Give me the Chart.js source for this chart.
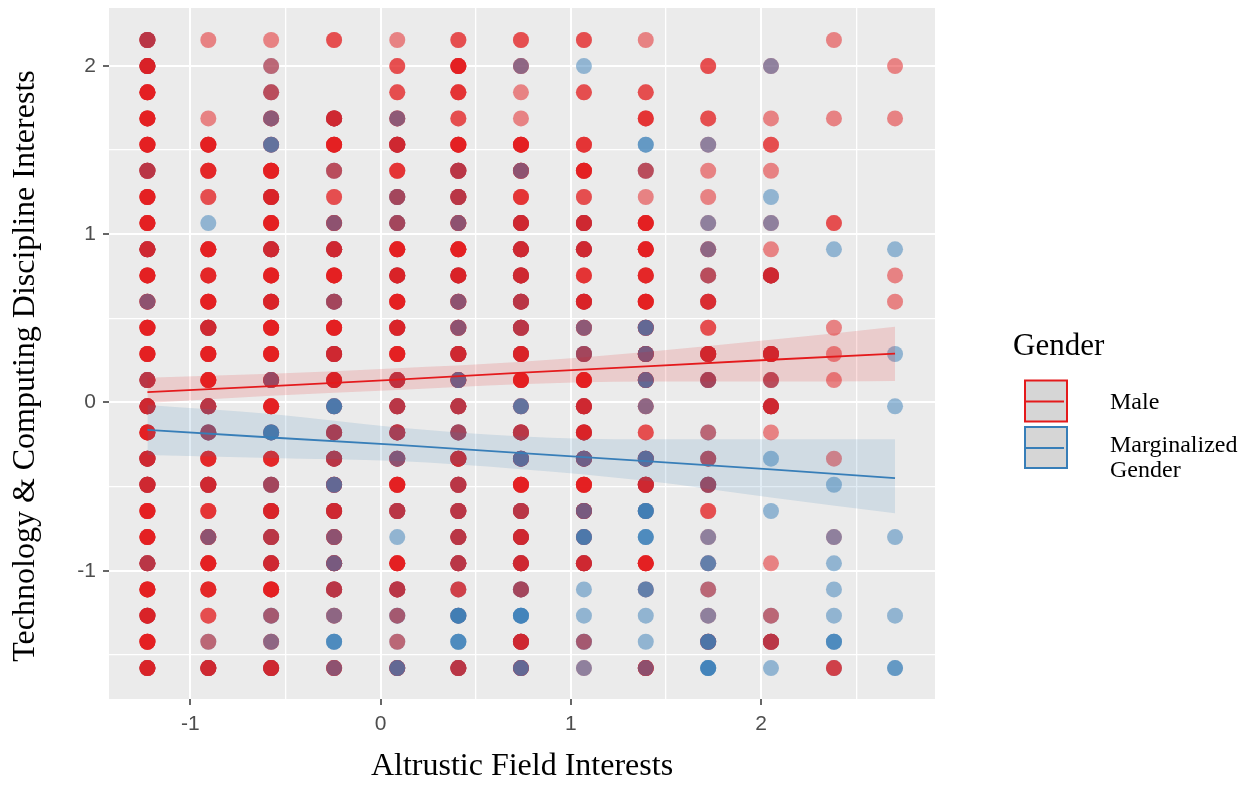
<!DOCTYPE html>
<html>
<head>
<meta charset="utf-8">
<script src="https://cdn.jsdelivr.net/npm/chart.js@4.4.1/dist/chart.umd.min.js"></script>
<style>
html,body{margin:0;padding:0;background:#ffffff;}
#wrap{width:1252px;height:789px;position:relative;}
</style>
</head>
<body>
<div id="wrap"><canvas id="c" width="1252" height="789"></canvas></div>
<script>
// ---- Data ----
// Discrete x positions (Altrustic Field Interests)
const xLevels = [-1.225, -0.905, -0.575, -0.244, 0.088, 0.409, 0.738, 1.069, 1.394, 1.722, 2.052, 2.383, 2.704];
// Discrete y positions (Technology & Computing Discipline Interests), top to bottom
const yLevels = [2.154, 1.999, 1.843, 1.688, 1.532, 1.377, 1.221, 1.066, 0.910, 0.755, 0.599, 0.444, 0.288, 0.133,
                 -0.023, -0.178, -0.334, -0.489, -0.645, -0.800, -0.956, -1.111, -1.267, -1.422, -1.578];
// Respondents at each grid cell, in drawing order: M = Male, G = Marginalized Gender
const column1  = ["MMMMGM","MMMGMMM","MMMMM","MMMMM","MMMMM","MMMMGM","MMMMM","MMMMM","MMMMGMM","MMMMM","MMMMG","MMMMM","MMMMM","MMMMGM","MMMMGMM","MMMMM","MMMMGMM","MMMMGMM","MMMMM","MMMMM","MMMMGM","MMMMM","MMGMMM","MMMMM","MMGMMM"];
const column2  = ["M","","","M","MMMMM","MMMM","MM","G","MMMMM","MMMM","MMMMM","MMMMGMM","MMMMM","MMMMM","MMMMGM","MMGGM","MMMM","MMMMGMM","MMM","MMMMG","MMMMM","MMMM","MM","GM","MMMMGMM"];
const column3  = ["M","GM","MGM","MMMG","MMGG","MMMMM","MMGMMM","MMMMM","MMMMGMM","MMMMM","MMGMMM","MMMMM","MMMMM","MMMMMG","MMMMM","MMGGG","MMMM","MMGGM","MMGMMM","MMMMGM","MMMMGMM","MMMMM","GGM","MMG","MMMMGMM"];
const column4  = ["MM","","","MMMMGMM","MMMMM","MGM","MM","MMMMG","MMMMGMM","MMMMM","MMGGM","MMMMM","MMMMGMM","MMGMMM","MMGGG","MMMMGM","MMMMGM","MMMMGG","MMMMGMM","MMMMG","MMMMGMG","MMMMGM","MMG","GGG","MMMMG"];
const column5  = ["M","MM","MM","MMMG","MMMMGMM","MMM","MMGGM","MMGGM","MMMMM","MMGMMM","MMMMM","MMGMMM","MMMMM","MMMMGM","MMMMGM","MMMMGM","MMMMG","MMMMM","MMMMGM","G","MMMMM","MMMMGM","GGM","GM","MMMMGG"];
const column6  = ["MM","MMMMM","MMM","MM","MMMMM","MMMMGM","MMMMGM","MMMMG","MMMMM","MMGMMM","MMMMG","MMMMG","MMMMGMM","MMMMGG","MMMMGM","MMGGM","MMMMGMM","MMMMGM","MMMMGM","MMMMGM","MMMMGM","GMM","MGGGG","GGG","MMMMGM"];
const column7  = ["MM","MMG","M","M","MMMMM","MMMMG","MMM","MMMMGMM","MMMMGMM","MMMMGMM","MMMMGM","MMMMGM","MMGMMM","MMMMM","MMGG","MMMMGM","MMMMGG","MMMMM","MMMMGM","MMMMGMM","MMMMGMM","MMGGM","GGGG","MMMMGMM","MMMMGG"];
const column8  = ["MM","G","MM","","MMM","MMMMM","MM","MMMMGMM","MMMMGMM","MMM","MMGMMM","MMMG","MMGGM","MMMMM","MMMMGMM","MMGMMM","MMMMGMG","MMMMM","MMMMGMG","MMGGG","MMMMGMM","G","G","GGM","MG"];
const column9  = ["M","","MM","MMM","GG","MGM","M","MMMMM","MMMMM","MMMM","MMMMM","MMMMGG","MMMMGMG","MMMMGG","MMG","MM","MMMMGG","MMMMGMM","MGGGG","GGG","MMMMM","MGG","G","G","MMMMMG"];
const column10 = ["","MM","","MM","MG","M","M","MG","MMG","MGM","GMMM","MM","MMMMGMM","MMGGM","","GM","MGM","MMGGM","MM","MG","MGG","GM","MG","MMMGGG","GGGG"];
const column11 = ["","MG","","M","MM","M","G","MG","M","MMMMGMM","","","MMMMGMM","MGM","MMMMGMM","M","G","","G","","M","","GM","MMMMGM","G"];
const column12 = ["M","","","M","","","","MM","G","","","M","M","M","","","M","G","","MG","G","G","G","GGG","GMM"];
const column13 = ["","M","","M","","","","","G","M","M","","G","","G","","","","","G","","","G","","GG"];

// Fitted lines and 95% bands read at these x positions
const fitX        = [-1.225, -0.575, 0.088, 0.7225, 1.394, 2.052, 2.704];
const maleFit     = [0.061, 0.097, 0.136, 0.176, 0.215, 0.254, 0.290];
const maleUpper   = [0.147, 0.170, 0.203, 0.240, 0.300, 0.372, 0.450];
const maleLower   = [-0.003, 0.040, 0.074, 0.108, 0.124, 0.124, 0.128];
const margFit     = [-0.163, -0.208, -0.252, -0.300, -0.349, -0.398, -0.450];
const margUpper   = [-0.015, -0.068, -0.148, -0.200, -0.219, -0.219, -0.219];
const margLower   = [-0.312, -0.330, -0.348, -0.395, -0.465, -0.565, -0.658];

// Axis ticks / grid
const xGridValues = [-1, -0.5, 0, 0.5, 1, 1.5, 2, 2.5];
const yGridValues = [-1.5, -1, -0.5, 0, 0.5, 1, 1.5, 2];
const xTickLabels = {"-1": "-1", "0": "0", "1": "1", "2": "2"};
const yTickLabels = {"-1": "-1", "0": "0", "1": "1", "2": "2"};
const xRange = [-1.427, 2.914];
const yRange = [-1.762, 2.344];

const xTitle = 'Altrustic Field Interests';
const yTitle = 'Technology & Computing Discipline Interests';
const legendTitle = 'Gender';
const genderNames = ["Male", "Marginalized\nGender"];

// ---- Build chart ----
const RED = 'rgb(228,26,28)';
const BLUE = 'rgb(55,126,184)';
const RED_PT = 'rgba(228,26,28,0.5)';
const BLUE_PT = 'rgba(55,126,184,0.5)';

const columns = [column1, column2, column3, column4, column5, column6, column7, column8, column9, column10, column11, column12, column13];
const points = [];
const pointColors = [];
columns.forEach((col, i) => {
  col.forEach((seq, j) => {
    for (const ch of seq) {
      points.push({x: xLevels[i], y: yLevels[j]});
      pointColors.push(ch === 'M' ? RED_PT : BLUE_PT);
    }
  });
});
const toXY = (arr) => arr.map((v, i) => ({x: fitX[i], y: v}));

const isMajor = (v) => Math.abs(v - Math.round(v)) < 1e-9;

const panelBg = {
  id: 'panelBg',
  beforeDraw(chart) {
    const {ctx, chartArea: a} = chart;
    ctx.save();
    ctx.fillStyle = '#ffffff';
    ctx.fillRect(0, 0, chart.width, chart.height);
    ctx.fillStyle = '#EBEBEB';
    ctx.fillRect(a.left, a.top, a.right - a.left, a.bottom - a.top);
    ctx.restore();
  }
};

const yAxisTitle = {
  id: 'yAxisTitle',
  afterDraw(chart) {
    const ctx = chart.ctx;
    ctx.save();
    ctx.translate(26, 366);
    ctx.rotate(-Math.PI / 2);
    ctx.fillStyle = '#000000';
    ctx.font = '32px "Liberation Serif"';
    ctx.textAlign = 'center';
    ctx.textBaseline = 'middle';
    ctx.fillText(yTitle, 0, 0);
    ctx.restore();
  }
};

const ggLegend = {
  id: 'ggLegend',
  afterDraw(chart) {
    const ctx = chart.ctx;
    ctx.save();
    ctx.fillStyle = '#000000';
    ctx.textAlign = 'left';
    ctx.textBaseline = 'alphabetic';
    ctx.font = '31px "Liberation Serif"';
    ctx.fillText(legendTitle, 1013, 355);
    const keys = [
      {color: RED, top: 380.5, label: genderNames[0], base: 409},
      {color: BLUE, top: 427, label: genderNames[1], base: 452}
    ];
    keys.forEach(k => {
      ctx.fillStyle = '#D6D6D6';
      ctx.fillRect(1025, k.top, 42, 41);
      ctx.strokeStyle = k.color;
      ctx.lineWidth = 2;
      ctx.strokeRect(1025, k.top, 42, 41);
      ctx.beginPath();
      ctx.moveTo(1025, k.top + 21);
      ctx.lineTo(1064, k.top + 21);
      ctx.lineWidth = 1.8;
      ctx.stroke();
      ctx.fillStyle = '#000000';
      ctx.font = '24px "Liberation Serif"';
      k.label.split('\n').forEach((line, li) => ctx.fillText(line, 1110, k.base + li * 24.5));
    });
    ctx.restore();
  }
};

const gridLineWidth = (c) => (c.tick && isMajor(c.tick.value)) ? 2 : 1.3;
const tickMarkColor = (c) => (c.tick && isMajor(c.tick.value)) ? '#333333' : 'rgba(0,0,0,0)';

new Chart(document.getElementById('c'), {
  type: 'line',
  data: {
    datasets: [
      {
        label: 'respondents', data: points, showLine: false,
        pointRadius: 8, pointHoverRadius: 8, pointBorderWidth: 0,
        pointBackgroundColor: pointColors, pointBorderColor: 'rgba(0,0,0,0)',
        order: 10
      },
      {
        label: 'maleLower', data: toXY(maleLower), borderColor: 'rgba(0,0,0,0)', borderWidth: 0,
        pointRadius: 0, fill: false, cubicInterpolationMode: 'monotone', order: 5
      },
      {
        label: 'maleUpper', data: toXY(maleUpper), borderColor: 'rgba(0,0,0,0)', borderWidth: 0,
        pointRadius: 0, fill: '-1', backgroundColor: 'rgba(228,26,28,0.15)', cubicInterpolationMode: 'monotone', order: 5
      },
      {
        label: 'margLower', data: toXY(margLower), borderColor: 'rgba(0,0,0,0)', borderWidth: 0,
        pointRadius: 0, fill: false, cubicInterpolationMode: 'monotone', order: 5
      },
      {
        label: 'margUpper', data: toXY(margUpper), borderColor: 'rgba(0,0,0,0)', borderWidth: 0,
        pointRadius: 0, fill: '-1', backgroundColor: 'rgba(55,126,184,0.15)', cubicInterpolationMode: 'monotone', order: 5
      },
      {
        label: genderNames[0], data: toXY(maleFit), borderColor: RED, borderWidth: 1.8,
        pointRadius: 0, fill: false, order: 1
      },
      {
        label: genderNames[1], data: toXY(margFit), borderColor: BLUE, borderWidth: 1.8,
        pointRadius: 0, fill: false, order: 1
      }
    ]
  },
  options: {
    responsive: false,
    animation: false,
    devicePixelRatio: 1,
    events: [],
    layout: {padding: {top: 8, right: 317, left: 0, bottom: 0}},
    plugins: {legend: {display: false}, tooltip: {enabled: false}, title: {display: false}},
    scales: {
      x: {
        type: 'linear', min: xRange[0], max: xRange[1],
        afterBuildTicks: (s) => { s.ticks = xGridValues.map(v => ({value: v})); },
        afterFit: (s) => { s.height = 90; s.paddingLeft = 0; s.paddingRight = 0; },
        border: {display: false},
        grid: {color: '#FFFFFF', lineWidth: gridLineWidth, drawTicks: true, tickLength: 6,
               tickColor: tickMarkColor, tickWidth: 1.5},
        ticks: {
          callback: (v) => xTickLabels[String(v)] || '',
          font: {family: 'Liberation Sans', size: 21}, color: '#4D4D4D', padding: 7,
          maxRotation: 0, autoSkip: false
        },
        title: {display: true, text: xTitle, color: '#000000',
                font: {family: 'Liberation Serif', size: 32}, padding: {top: 0, bottom: 3}}
      },
      y: {
        type: 'linear', min: yRange[0], max: yRange[1],
        afterBuildTicks: (s) => { s.ticks = yGridValues.map(v => ({value: v})); },
        afterFit: (s) => { s.width = 109; s.paddingTop = 0; s.paddingBottom = 0; },
        border: {display: false},
        grid: {color: '#FFFFFF', lineWidth: gridLineWidth, drawTicks: true, tickLength: 6,
               tickColor: tickMarkColor, tickWidth: 1.5},
        ticks: {
          callback: (v) => yTickLabels[String(v)] || '',
          font: {family: 'Liberation Sans', size: 21}, color: '#4D4D4D', padding: 7,
          autoSkip: false
        },
        title: {display: false}
      }
    }
  },
  plugins: [panelBg, yAxisTitle, ggLegend]
});
</script>
</body>
</html>
